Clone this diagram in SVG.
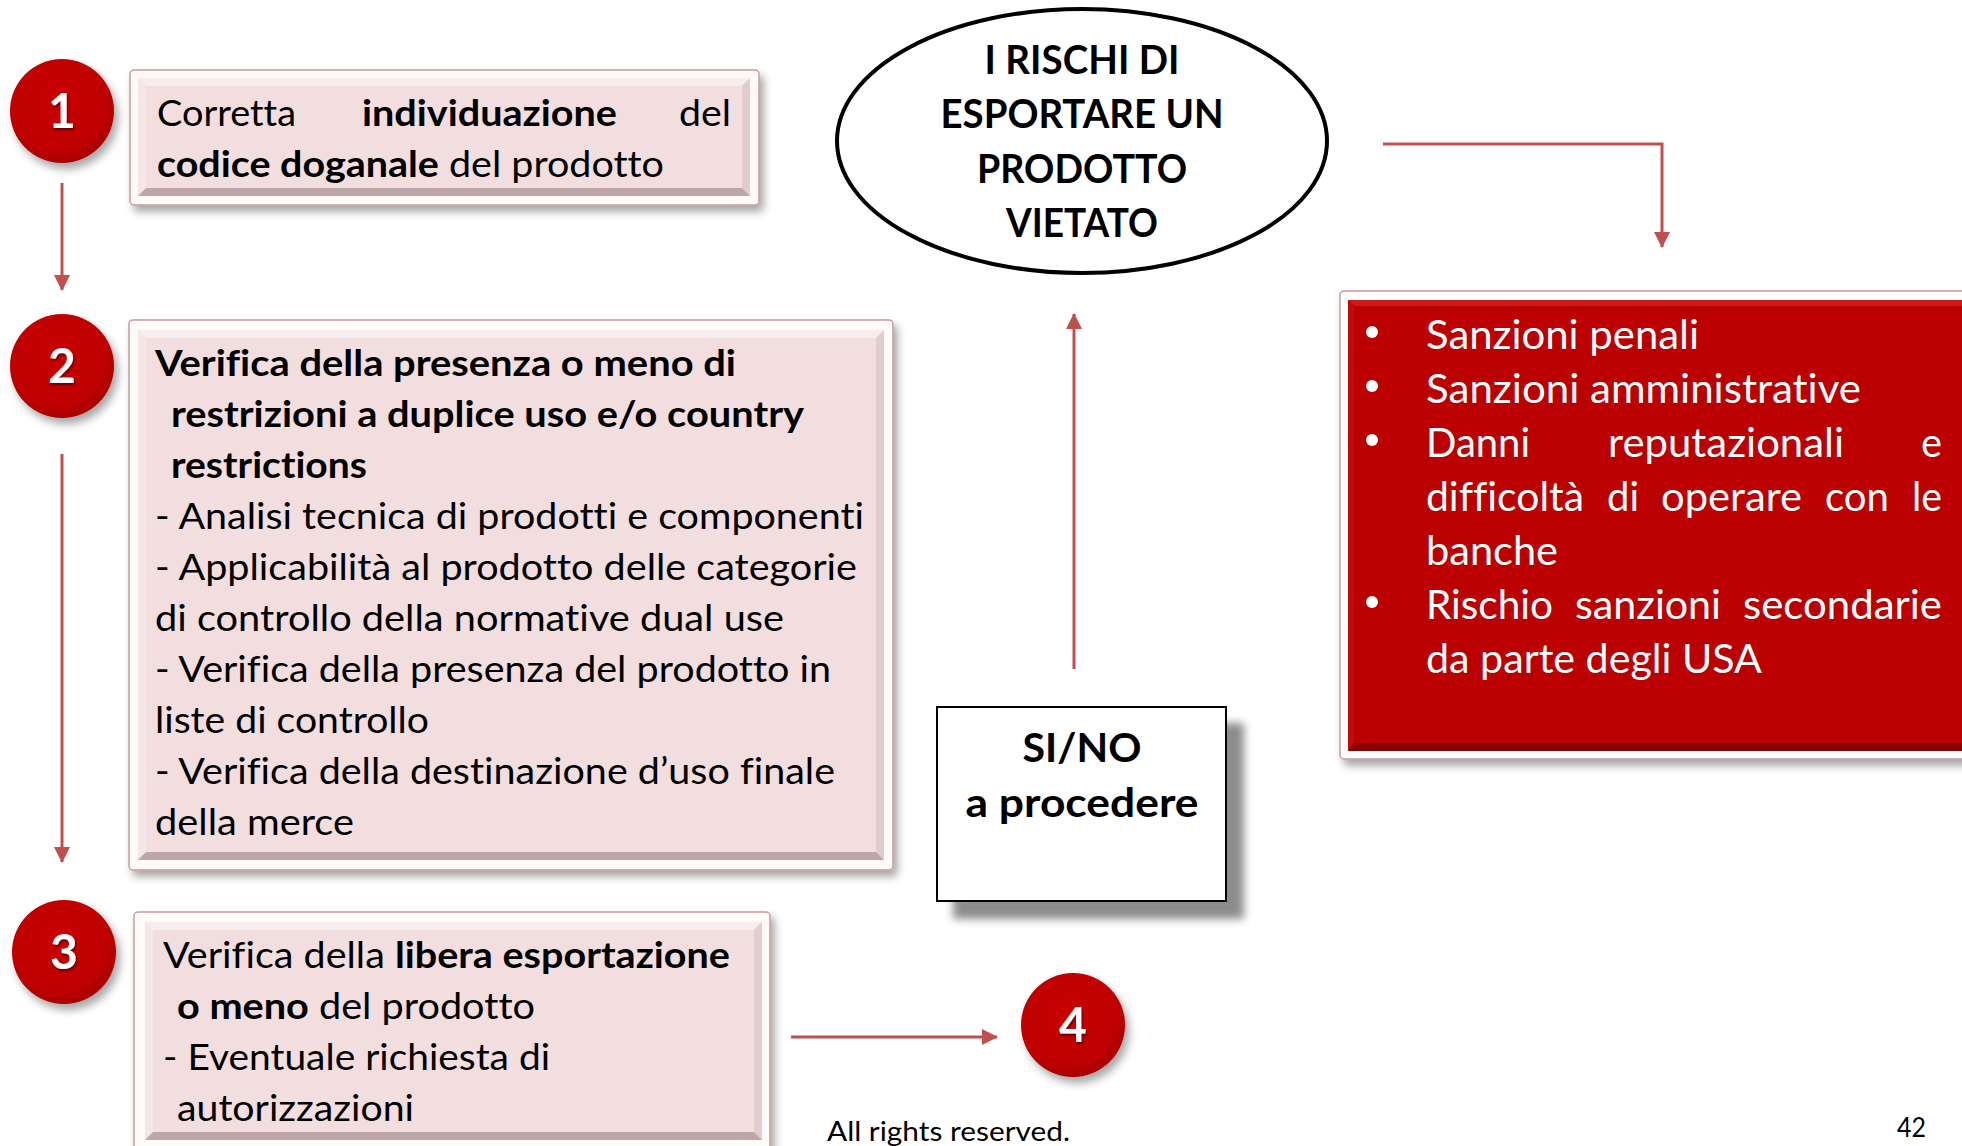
<svg xmlns="http://www.w3.org/2000/svg" width="1962" height="1146" viewBox="0 0 1962 1146">
<defs>
<style>
text{font-variant-ligatures:none;font-feature-settings:"liga" 0,"clig" 0}
.t{font-family:Lato,"Liberation Sans",sans-serif;font-size:37px;fill:#000}
.b{font-weight:bold}
.w{font-family:Lato,"Liberation Sans",sans-serif;font-size:41px;fill:#fff}
.h{font-family:Lato,"Liberation Sans",sans-serif;font-size:41px;font-weight:bold;fill:#000;text-anchor:middle}
.num{font-family:Lato,"Liberation Sans",sans-serif;font-size:48px;font-weight:bold;fill:#fff;text-anchor:middle}
.foot{font-family:Lato,"Liberation Sans",sans-serif;font-size:27px;fill:#000}
.conn{stroke:#C0504D;stroke-width:3;fill:none}
.frame{fill:#fffafa;stroke:#c99a9a;stroke-width:1.5}
.inner{fill:#F2DEDF}
.bt{fill:#f8eced}
.bl{fill:#f5e7e8}
.br{fill:#e2cdce}
.bb{fill:#bda7a8}
.circ{fill:url(#cg)}
</style>
<radialGradient id="cg" cx="0.45" cy="0.4" r="0.6">
<stop offset="0" stop-color="#c80000"/>
<stop offset="0.8" stop-color="#bf0000"/>
<stop offset="1" stop-color="#a80000"/>
</radialGradient>
<filter id="sh" x="-20%" y="-20%" width="150%" height="150%">
<feDropShadow dx="4" dy="6" stdDeviation="4" flood-color="#000" flood-opacity="0.35"/>
</filter>
<filter id="shb" x="-20%" y="-20%" width="150%" height="150%">
<feDropShadow dx="17" dy="17" stdDeviation="4" flood-color="#000" flood-opacity="0.45"/>
</filter>
<filter id="tsh" x="-20%" y="-20%" width="150%" height="150%">
<feDropShadow dx="1" dy="2" stdDeviation="1" flood-color="#000" flood-opacity="0.5"/>
</filter>
<marker id="ah" viewBox="0 0 16 16" refX="15" refY="8" markerWidth="16" markerHeight="16" markerUnits="userSpaceOnUse" orient="auto">
<path d="M0,0 L16,8 L0,16 Z" fill="#C0504D"/>
</marker>
</defs>
<rect width="1962" height="1146" fill="#fff"/>

<g id="connectors">
<line class="conn" x1="62" y1="183" x2="62" y2="290" marker-end="url(#ah)"/>
<line class="conn" x1="62" y1="454" x2="62" y2="862" marker-end="url(#ah)"/>
<line class="conn" x1="791" y1="1037" x2="997" y2="1037" marker-end="url(#ah)"/>
<line class="conn" x1="1074" y1="669" x2="1074" y2="314" marker-end="url(#ah)"/>
<polyline class="conn" points="1383,144 1662,144 1662,247" marker-end="url(#ah)"/>
</g>

<g id="step1">
<circle class="circ" cx="62" cy="111" r="52" filter="url(#sh)"/>
<text class="num" x="62" y="128" filter="url(#tsh)">1</text>
</g>
<g id="box1">
<rect class="frame" x="130" y="70" width="629" height="135" rx="4" filter="url(#sh)"/>
<rect class="inner" x="138" y="78" width="612" height="118"/>
<polygon class="bt" points="138,78 750,78 742,86 146,86"/>
<polygon class="bl" points="138,78 146,86 146,188 138,196"/>
<polygon class="br" points="750,78 750,196 742,188 742,86"/>
<polygon class="bb" points="138,196 750,196 742,188 146,188"/>
<text class="t" x="157" y="126" textLength="139" lengthAdjust="spacingAndGlyphs">Corretta</text>
<text class="t b" x="362" y="126" textLength="255" lengthAdjust="spacingAndGlyphs">individuazione</text>
<text class="t" x="679" y="126" textLength="52" lengthAdjust="spacingAndGlyphs">del</text>
<text class="t" x="157" y="177" textLength="507" lengthAdjust="spacingAndGlyphs"><tspan class="b">codice doganale</tspan> del prodotto</text>
</g>

<g id="step2">
<circle class="circ" cx="62" cy="366" r="52" filter="url(#sh)"/>
<text class="num" x="62" y="383" filter="url(#tsh)">2</text>
</g>
<g id="box2">
<rect class="frame" x="129" y="320" width="764" height="550" rx="4" filter="url(#sh)"/>
<rect class="inner" x="138" y="330" width="746" height="530"/>
<polygon class="bt" points="138,330 884,330 876,338 146,338"/>
<polygon class="bl" points="138,330 146,338 146,852 138,860"/>
<polygon class="br" points="884,330 884,860 876,852 876,338"/>
<polygon class="bb" points="138,860 884,860 876,852 146,852"/>
<text class="t b" x="155" y="376" textLength="581" lengthAdjust="spacingAndGlyphs">Verifica della presenza o meno di</text>
<text class="t b" x="171" y="427" textLength="633" lengthAdjust="spacingAndGlyphs">restrizioni a duplice uso e/o country</text>
<text class="t b" x="171" y="478" textLength="196" lengthAdjust="spacingAndGlyphs">restrictions</text>
<text class="t" x="155" y="529" textLength="709" lengthAdjust="spacingAndGlyphs">- Analisi tecnica di prodotti e componenti</text>
<text class="t" x="155" y="580" textLength="702" lengthAdjust="spacingAndGlyphs">- Applicabilità al prodotto delle categorie</text>
<text class="t" x="155" y="631" textLength="629" lengthAdjust="spacingAndGlyphs">di controllo della normative dual use</text>
<text class="t" x="155" y="682" textLength="676" lengthAdjust="spacingAndGlyphs">- Verifica della presenza del prodotto in</text>
<text class="t" x="155" y="733" textLength="274" lengthAdjust="spacingAndGlyphs">liste di controllo</text>
<text class="t" x="155" y="784" textLength="680" lengthAdjust="spacingAndGlyphs">- Verifica della destinazione d’uso finale</text>
<text class="t" x="155" y="835" textLength="199" lengthAdjust="spacingAndGlyphs">della merce</text>
</g>

<g id="step3">
<circle class="circ" cx="64" cy="952" r="52" filter="url(#sh)"/>
<text class="num" x="64" y="969" filter="url(#tsh)">3</text>
</g>
<g id="box3">
<rect class="frame" x="134" y="912" width="636" height="240" rx="4" filter="url(#sh)"/>
<rect class="inner" x="145" y="922" width="617" height="218"/>
<polygon class="bt" points="145,922 762,922 754,930 153,930"/>
<polygon class="bl" points="145,922 153,930 153,1132 145,1140"/>
<polygon class="br" points="762,922 762,1140 754,1132 754,930"/>
<polygon class="bb" points="145,1140 762,1140 754,1132 153,1132"/>
<text class="t" x="163" y="968" textLength="567" lengthAdjust="spacingAndGlyphs">Verifica della <tspan class="b">libera esportazione</tspan></text>
<text class="t" x="177" y="1019" textLength="358" lengthAdjust="spacingAndGlyphs"><tspan class="b">o meno</tspan> del prodotto</text>
<text class="t" x="163" y="1070" textLength="387" lengthAdjust="spacingAndGlyphs">- Eventuale richiesta di</text>
<text class="t" x="177" y="1121" textLength="237" lengthAdjust="spacingAndGlyphs">autorizzazioni</text>
</g>

<g id="step4">
<circle class="circ" cx="1073" cy="1025" r="52" filter="url(#sh)"/>
<text class="num" x="1073" y="1042" filter="url(#tsh)">4</text>
</g>

<g id="rischi">
<ellipse cx="1082" cy="141" rx="245" ry="132" fill="#fff" stroke="#000" stroke-width="4"/>
<text class="h" x="1082" y="74" textLength="195" lengthAdjust="spacingAndGlyphs">I RISCHI DI</text>
<text class="h" x="1082" y="128" textLength="283" lengthAdjust="spacingAndGlyphs">ESPORTARE UN</text>
<text class="h" x="1082" y="183" textLength="210" lengthAdjust="spacingAndGlyphs">PRODOTTO</text>
<text class="h" x="1082" y="237" textLength="152" lengthAdjust="spacingAndGlyphs">VIETATO</text>
</g>

<g id="sino">
<rect x="937" y="707" width="289" height="194" fill="#fff" stroke="#000" stroke-width="2" filter="url(#shb)"/>
<text class="h" x="1082" y="762" textLength="119" lengthAdjust="spacingAndGlyphs">SI/NO</text>
<text class="h" x="1082" y="817" textLength="233" lengthAdjust="spacingAndGlyphs">a procedere</text>
</g>

<g id="sanzioni">
<rect x="1340" y="291" width="640" height="468" rx="4" fill="#fff" stroke="#c99a9a" stroke-width="1.5" filter="url(#sh)"/>
<rect x="1348" y="300" width="630" height="451" fill="#BA0000"/>
<polygon points="1348,300 1978,300 1978,306 1354,306" fill="#c81a1a"/>
<polygon points="1348,300 1354,306 1354,745 1348,751" fill="#c20a0a"/>
<polygon points="1348,751 1978,751 1978,743 1354,743" fill="#8a0000"/>
<circle cx="1372" cy="332" r="6" fill="#fff"/>
<circle cx="1372" cy="386" r="6" fill="#fff"/>
<circle cx="1372" cy="440" r="6" fill="#fff"/>
<circle cx="1372" cy="602" r="6" fill="#fff"/>
<text class="w" x="1426" y="349" textLength="273" lengthAdjust="spacingAndGlyphs">Sanzioni penali</text>
<text class="w" x="1426" y="403" textLength="435" lengthAdjust="spacingAndGlyphs">Sanzioni amministrative</text>
<text class="w" x="1426" y="457" textLength="104" lengthAdjust="spacingAndGlyphs">Danni</text>
<text class="w" x="1608" y="457" textLength="236" lengthAdjust="spacingAndGlyphs">reputazionali</text>
<text class="w" x="1921" y="457" textLength="21" lengthAdjust="spacingAndGlyphs">e</text>
<text class="w" x="1426" y="511" textLength="158" lengthAdjust="spacingAndGlyphs">difficoltà</text>
<text class="w" x="1607" y="511" textLength="32" lengthAdjust="spacingAndGlyphs">di</text>
<text class="w" x="1661" y="511" textLength="141" lengthAdjust="spacingAndGlyphs">operare</text>
<text class="w" x="1825" y="511" textLength="64" lengthAdjust="spacingAndGlyphs">con</text>
<text class="w" x="1912" y="511" textLength="30" lengthAdjust="spacingAndGlyphs">le</text>
<text class="w" x="1426" y="565" textLength="132" lengthAdjust="spacingAndGlyphs">banche</text>
<text class="w" x="1426" y="619" textLength="127" lengthAdjust="spacingAndGlyphs">Rischio</text>
<text class="w" x="1575" y="619" textLength="146" lengthAdjust="spacingAndGlyphs">sanzioni</text>
<text class="w" x="1743" y="619" textLength="199" lengthAdjust="spacingAndGlyphs">secondarie</text>
<text class="w" x="1426" y="673" textLength="336" lengthAdjust="spacingAndGlyphs">da parte degli USA</text>
</g>

<g id="footer">
<text class="foot" x="827" y="1141" textLength="243" lengthAdjust="spacingAndGlyphs">All rights reserved.</text>
<text class="foot" x="1897" y="1137" textLength="29" lengthAdjust="spacingAndGlyphs">42</text>
</g>
</svg>
